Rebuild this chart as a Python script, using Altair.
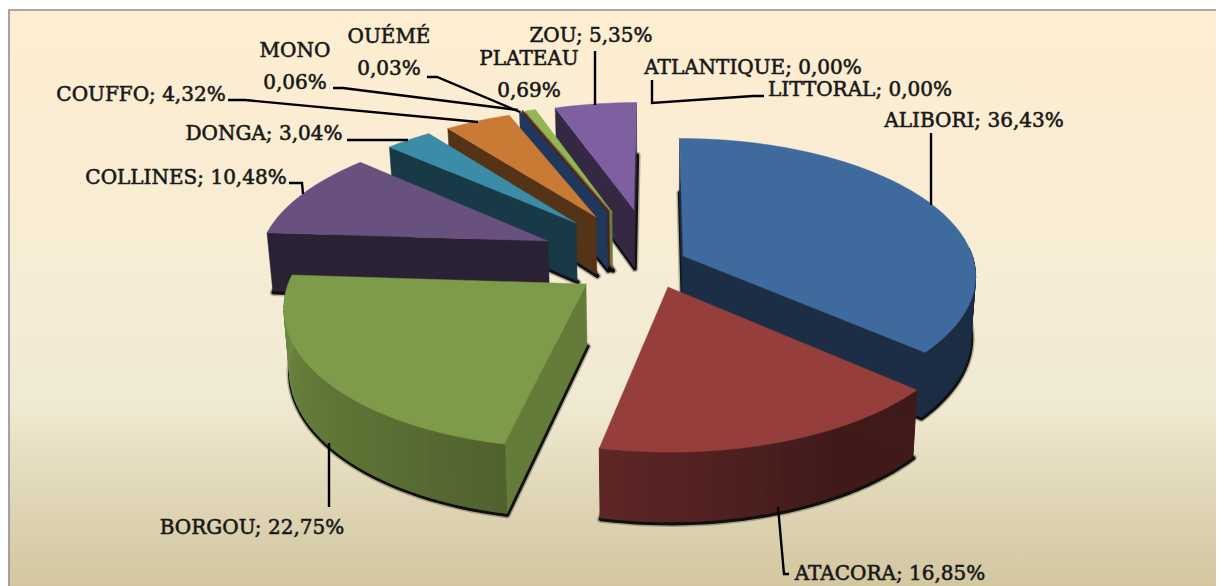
import math
import altair as alt
import pandas as pd

# ---- values
NAMES = ["ALIBORI", "ATACORA", "BORGOU", "COLLINES", "DONGA", "COUFFO",
         "MONO", "OUÉMÉ", "PLATEAU", "ZOU", "ATLANTIQUE", "LITTORAL"]
SHARES = [36.43, 16.85, 22.75, 10.48, 3.04, 4.32, 0.06, 0.03, 0.69, 5.35, 0.00, 0.00]
TOPS = ["#3f6a9e", "#953e3c", "#7e9b49", "#68507f", "#3a8ca7", "#c97a35",
        "#213a5e", "#7a2a28", "#94b556", "#7e60a0", "#213a5e", "#7a2a28"]
CUT_FACE = [0.44, 0.44, 0.8, 0.42, 0.42, 0.42, 0.98, 0.7, 0.7, 0.42, 0.4, 0.4]

# ---- layout: where each exploded slice's tip sits, and the paint order
TIPS = {"ALIBORI": (683, 256), "ATACORA": (668, 287), "BORGOU": (586, 284),
        "COLLINES": (548, 241), "DONGA": (576, 223), "COUFFO": (596, 217),
        "MONO": (607, 212), "OUÉMÉ": (609, 211), "PLATEAU": (612, 212), "ZOU": (634, 210)}
PAINT = ["ZOU", "PLATEAU", "OUÉMÉ", "MONO", "COUFFO", "DONGA", "COLLINES", "ALIBORI", "BORGOU", "ATACORA"]
CX, CY, RX, RY, K, DEPTH, K2, TAPER = 655, 265, 292, 136, 0.137, 60, 0.12, 0.985

LABEL_TEXT = ["ALIBORI; 36,43%", "ATACORA; 16,85%", "BORGOU; 22,75%", "COLLINES; 10,48%",
              "DONGA; 3,04%", "COUFFO; 4,32%", "MONO", "0,06%", "OUÉMÉ", "0,03%",
              "PLATEAU", "0,69%", "ZOU; 5,35%", "ATLANTIQUE; 0,00%", "LITTORAL; 0,00%"]
LABEL_X = [974, 890, 252, 186, 264, 141, 295, 295, 389, 389, 529, 529, 591, 753, 860]
LABEL_Y = [120.5, 573.5, 527.5, 177.5, 133.5, 94.5, 50.5, 82.5, 36.5, 68.5, 58.5, 90.5, 35.5, 67.5, 89.5]
LEADERS = [
    [(931, 133), (931, 205)],
    [(778, 507), (784, 574), (789, 574)],
    [(329, 443), (329, 507)],
    [(289, 183), (302, 183), (303, 194)],
    [(347, 140), (408, 140)],
    [(228, 100), (245, 100), (478, 122)],
    [(333, 88), (343, 88), (518, 110)],
    [(427, 77), (437, 77), (520, 112)],
    [(595, 51), (595, 105)],
    [(652, 80), (652, 103), (753, 96), (764, 96)],
]
BG_STOPS = [(0, "#feeed1"), (0.45, "#f7ecd5"), (0.68, "#f0ead3"), (0.82, "#e2d9ba"), (1, "#d3c6a0")]


def project(u, v, bottom=False):
    g = 1 / (1 + K * v)
    x = CX + RX * u * g
    y = CY - RY * v * g
    if bottom:
        y += DEPTH / (1 + K2 * v)
        x = CX + (x - CX) * TAPER
    return x, y


def invert(x, y):
    a = (CY - y) / RY
    v = a / (1 - K * a)
    return (x - CX) / RX * (1 + K * v), v


def shade(hex_colour, f):
    r, g, b = [int(hex_colour[i:i + 2], 16) for i in (1, 3, 5)]
    return "#%02x%02x%02x" % (int(r * f), int(g * f), int(b * f))


def wall_shade(deg):
    if deg < 150:
        return 0.43
    if deg < 195:
        return 0.43 + (deg - 150) / 45 * 0.22
    if deg < 270:
        return 0.65 + (deg - 195) / 75 * 0.25
    return 0.9


rows = []
face_no = [0]


def add_face(points, fill, width, opacity=1):
    face_no[0] += 1
    for i, (x, y) in enumerate(points):
        rows.append(dict(x=x, y=y, i=i, face=face_no[0], fill=fill, sw=width, op=opacity))


start = {}
acc = 0.0
for n, s in zip(NAMES, SHARES):
    start[n] = acc
    acc += s * 3.6

for name in PAINT:
    idx = NAMES.index(name)
    a0 = start[name]
    a1 = a0 + SHARES[idx] * 3.6
    top = TOPS[idx]
    u0, v0 = invert(*TIPS[name])
    steps = max(2, int((a1 - a0) / 2))
    angs = [a0 + (a1 - a0) * j / steps for j in range(steps + 1)]

    def rim(d):
        t = math.radians(d)
        return u0 + math.sin(t), v0 + math.cos(t)

    # shadow under the slice
    cap = [project(u0, v0, True)] + [project(*rim(d), True) for d in angs] + [project(u0, v0, True)]
    shifted = [(x + 0.5, y + 1.5) for x, y in cap]
    add_face(shifted, "#000000", 7, 0.25)
    add_face(shifted, "#000000", 4, 0.9)

    # cut faces that look towards the viewer
    cut = shade(top, CUT_FACE[idx])
    for d, normal in ((a0, a0 - 90), (a1, a1 + 90)):
        if math.cos(math.radians(normal)) < 0.02:
            ru, rv = rim(d)
            add_face([project(u0, v0), project(ru, rv), project(ru, rv, True),
                      project(u0, v0, True), project(u0, v0)], cut, 0.5)

    # outer wall, one strip per step
    for d0, d1 in zip(angs[:-1], angs[1:]):
        if math.cos(math.radians((d0 + d1) / 2)) < 0.05:
            c = shade(top, wall_shade((d0 + d1) / 2))
            p0, p1 = rim(d0), rim(d1)
            add_face([project(*p0), project(*p1), project(*p1, True), project(*p0, True), project(*p0)],
                     c, 1)

    # top surface
    add_face([project(u0, v0)] + [project(*rim(d)) for d in angs] + [project(u0, v0)], top, 0.4)

faces = pd.DataFrame(rows)

xs = alt.Scale(domain=[8, 1216], range=[0, 1208], nice=False, zero=False)
ys = alt.Scale(domain=[8, 586], range=[0, 578], nice=False, zero=False)
X = alt.X("x:Q", scale=xs, axis=None)
Y = alt.Y("y:Q", scale=ys, axis=None)

panel = pd.DataFrame([dict(x=9, x2=1260, y=10, y2=620)])
background = alt.Chart(panel).mark_rect(
    fill=alt.LinearGradient(gradient="linear", x1=0, x2=0, y1=0, y2=1,
                            stops=[alt.GradientStop(offset=a * 0.947, color=b) for a, b in BG_STOPS]),
    stroke="#8f8f8f", strokeWidth=1.6,
).encode(X, x2="x2:Q", y=Y, y2="y2:Q")

slices = alt.Chart(faces).mark_line(strokeJoin="round", strokeCap="round", fill="#000000").encode(
    X, Y,
    fill=alt.Fill("fill:N", scale=None, legend=None),
    stroke=alt.Stroke("fill:N", scale=None, legend=None),
    strokeWidth=alt.StrokeWidth("sw:N", scale=None, legend=None),
    opacity=alt.Opacity("op:N", scale=None, legend=None),
    detail="face:N",
    order="i:Q",
)

leader_rows = [dict(x=x, y=y, i=i, k=k) for k, pts in enumerate(LEADERS) for i, (x, y) in enumerate(pts)]
leaders = alt.Chart(pd.DataFrame(leader_rows)).mark_line(color="#000000", strokeWidth=2.4).encode(
    X, Y, detail="k:N", order="i:Q")

label_df = pd.DataFrame(dict(x=LABEL_X, y=LABEL_Y, t=LABEL_TEXT))
labels = alt.Chart(label_df).mark_text(
    font="DejaVu Serif", fontSize=20, fontWeight="normal", align="center", baseline="middle",
    color="#141414", stroke="#222222", strokeWidth=0.6,
).encode(X, Y, text="t:N")

chart = alt.layer(background, slices, leaders, labels).properties(
    width=1208, height=578, padding=0, autosize=alt.AutoSizeParams(type="none"),
    background="#ffffff",
).configure_view(stroke=None)

chart.save("out.html", embed_options={"renderer": "svg", "actions": False})
